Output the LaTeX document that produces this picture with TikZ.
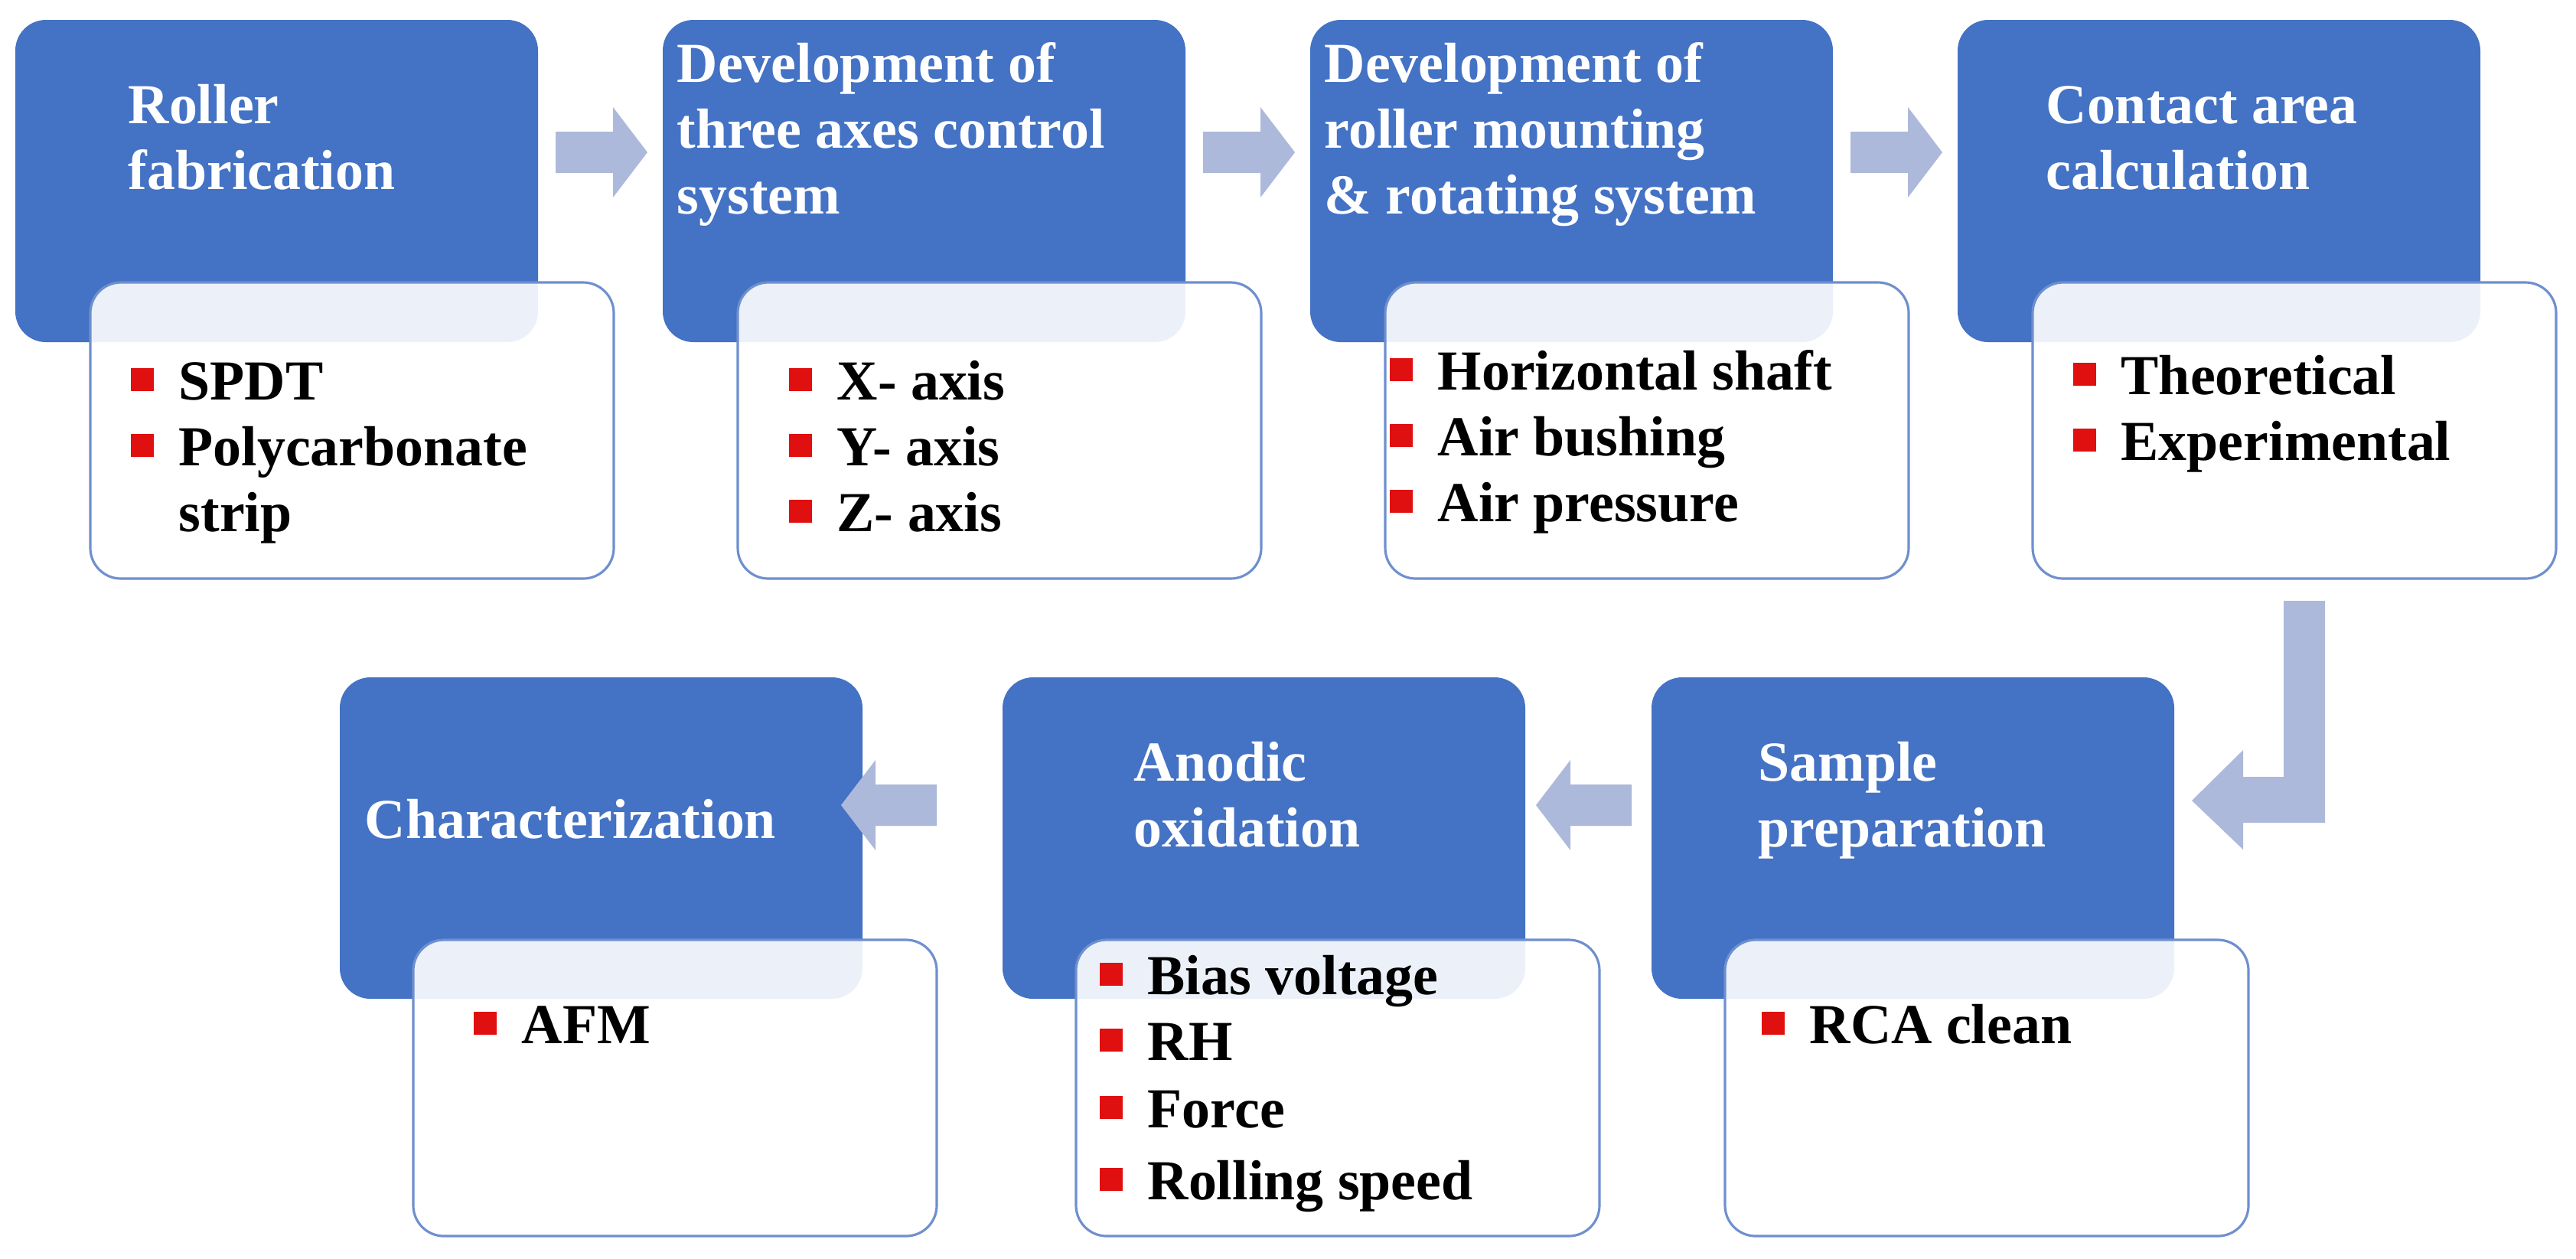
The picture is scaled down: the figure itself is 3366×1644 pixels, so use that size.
\documentclass[tikz,border=0pt]{standalone}
\usepackage{fontspec}
\setmainfont{Liberation Serif}
\usetikzlibrary{shapes.arrows}
\definecolor{bl}{HTML}{4472C4}
\definecolor{ar}{HTML}{ADB9DB}
\definecolor{bd}{HTML}{6F8FCF}
\definecolor{rd}{HTML}{E01010}
\begin{document}
\begin{tikzpicture}[x=0.01cm,y=-0.01cm,
 blue/.style={fill=bl,draw=none,rounded corners=0.4cm},
 wht/.style={fill=white,fill opacity=0.9,draw=bd,line width=0.9pt,rounded corners=0.4cm},
 ttl/.style={anchor=base west,text=white,font=\bfseries\fontsize{21}{25}\selectfont,inner sep=0pt},
 itm/.style={anchor=base west,text=black,font=\bfseries\fontsize{21}{25}\selectfont,inner sep=0pt},
 bul/.style={fill=rd,draw=none,minimum size=0.3cm,inner sep=0pt},
 arr/.style={fill=ar,draw=none}]
\useasboundingbox (0,0) rectangle (3366,1644);
% top row
\foreach \i/\x in {1/20,2/866,3/1712,4/2558}{
  \fill[blue] (\x,26) rectangle ++(683,421);
  \filldraw[wht] (\x+98,369) rectangle ++(684,387);
}
% bottom row
\foreach \x in {444,1310,2158}{
  \fill[blue] (\x,885) rectangle ++(683,420);
  \filldraw[wht] (\x+96,1228) rectangle ++(684,387);
}
% arrows top
\foreach \x in {726,1572,2418}{
  \fill[arr] (\x,172) -- (\x+75,172) -- (\x+75,140) -- (\x+120,199) -- (\x+75,258) -- (\x+75,226) -- (\x,226) -- cycle;
}
% arrows bottom (pointing left)
\foreach \x in {1099,2007}{
  \fill[arr] (\x+125,1025) -- (\x+45,1025) -- (\x+45,993) -- (\x,1052) -- (\x+45,1111) -- (\x+45,1079) -- (\x+125,1079) -- cycle;
}
% bent arrow
\fill[arr] (2984,785) -- (3038,785) -- (3038,1075) -- (2931,1075) -- (2931,1110) -- (2864,1046) -- (2931,980) -- (2931,1015) -- (2984,1015) -- cycle;
% titles
\node[ttl] (t1a) at (167,161) {Roller};
\node[ttl] (t1b) at (167,247) {fabrication};
\node[ttl] (t2a) at (884,107) {Development of};
\node[ttl] (t2b) at (884,193) {three axes control};
\node[ttl] (t2c) at (884,279) {system};
\node[ttl] (t3a) at (1730,107) {Development of};
\node[ttl] (t3b) at (1730,193) {roller mounting};
\node[ttl] (t3c) at (1730,279) {\& rotating system};
\node[ttl] (t4a) at (2673,161) {Contact area};
\node[ttl] (t4b) at (2673,247) {calculation};
\node[ttl] (t5a) at (476,1095) {Characterization};
\node[ttl] (t6a) at (1481,1020) {Anodic};
\node[ttl] (t6b) at (1481,1106) {oxidation};
\node[ttl] (t7a) at (2297,1020) {Sample};
\node[ttl] (t7b) at (2297,1106) {preparation};
% items
\newcommand\itemat[4]{\node[bul] (#1b) at (#2,#3-26) {}; \node[itm] (#1) at (#2+47,#3) {#4};}
\itemat{i11}{186}{522}{SPDT}
\itemat{i12}{186}{608}{Polycarbonate}
\node[itm] (i13) at (233,694) {strip};
\itemat{i21}{1046}{522}{X- axis}
\itemat{i22}{1046}{608}{Y- axis}
\itemat{i23}{1046}{694}{Z- axis}
\itemat{i31}{1831}{509}{Horizontal shaft}
\itemat{i32}{1831}{595}{Air bushing}
\itemat{i33}{1831}{681}{Air pressure}
\itemat{i41}{2724}{515}{Theoretical}
\itemat{i42}{2724}{601}{Experimental}
\itemat{i51}{634}{1363}{AFM}
\itemat{i61}{1452}{1299}{Bias voltage}
\itemat{i62}{1452}{1385}{RH}
\itemat{i63}{1452}{1473}{Force}
\itemat{i64}{1452}{1567}{Rolling speed}
\itemat{i71}{2317}{1363}{RCA clean}
\end{tikzpicture}
\end{document}
